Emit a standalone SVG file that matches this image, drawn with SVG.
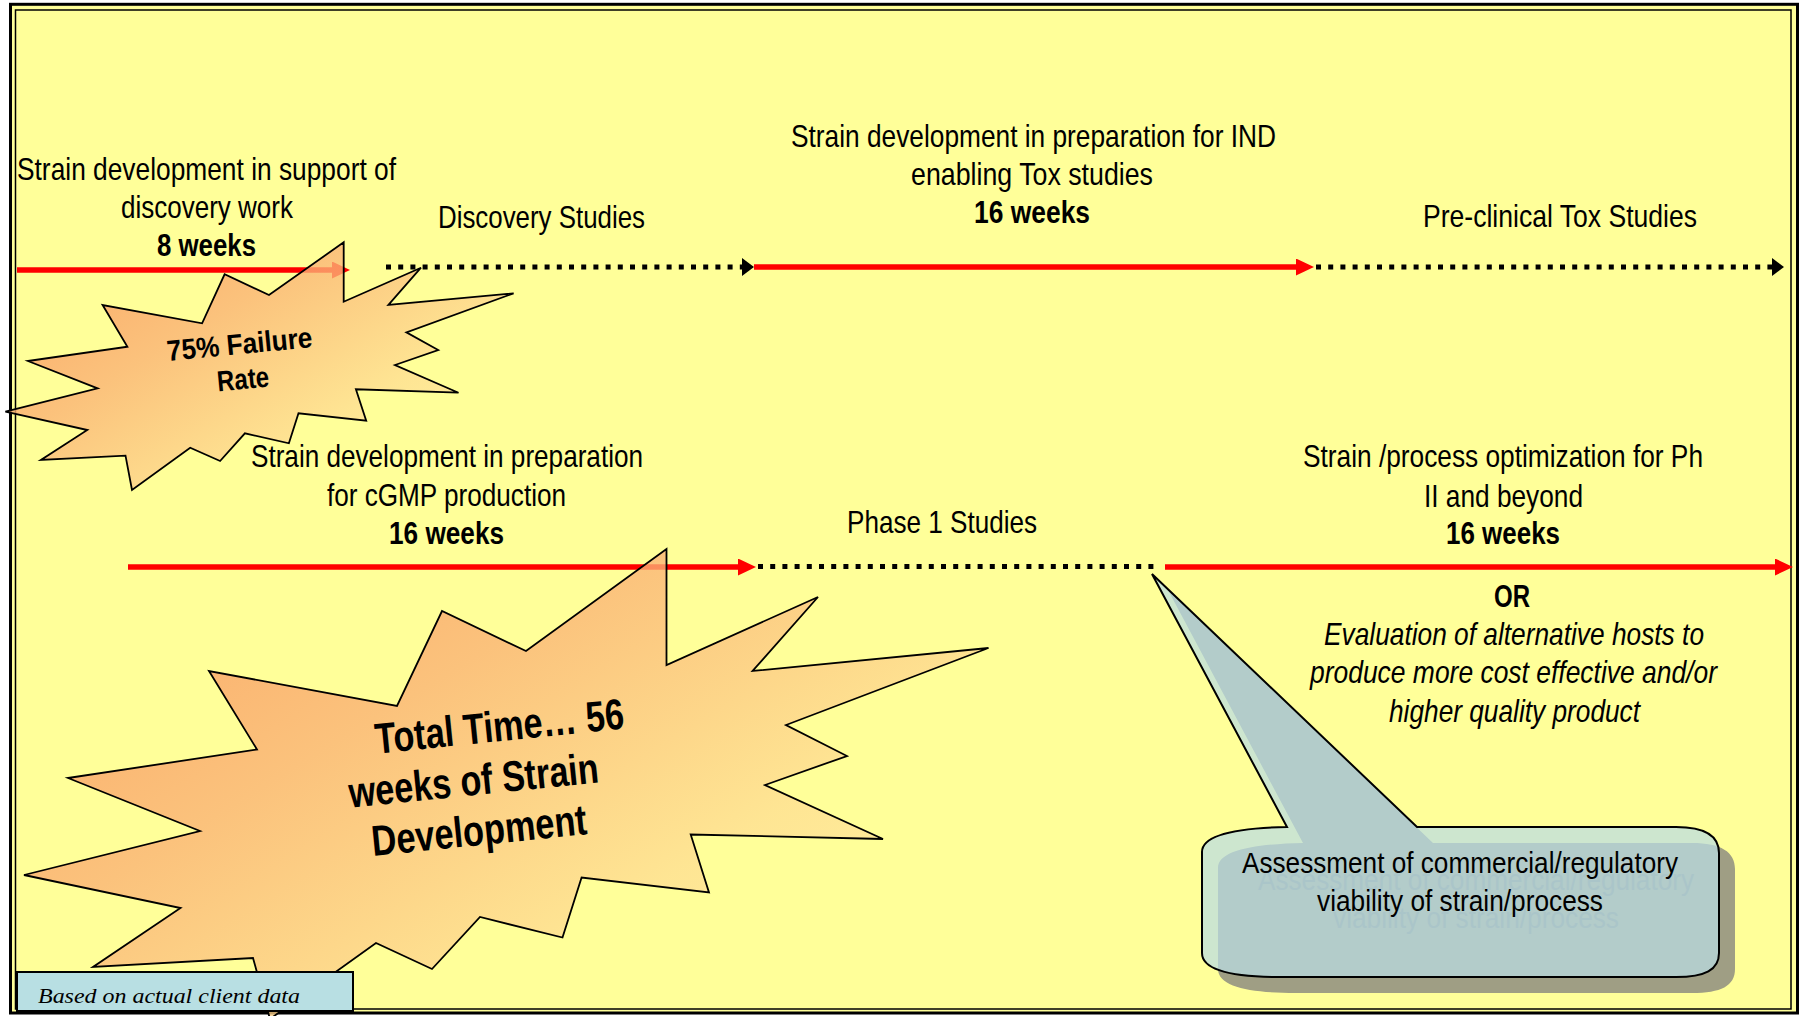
<svg xmlns="http://www.w3.org/2000/svg" width="1801" height="1016" viewBox="0 0 1801 1016">
  <style>
    .t { font-family: "Liberation Sans Narrow", "Liberation Sans", Arial, sans-serif; font-size: 32px; fill: #000; text-anchor: middle; }
    .b { font-weight: bold; }
    .i { font-style: italic; }
    .red { stroke: #FF0000; stroke-width: 5.3; fill: none; }
    .dot { stroke: #000; stroke-width: 5.2; fill: none; stroke-dasharray: 5 7.2; }
    .burst { stroke: #000; stroke-width: 1.8; fill: url(#burstGrad); fill-opacity: 0.78; stroke-linejoin: miter; }
    .bt { font-family: "Liberation Sans Narrow", "Liberation Sans", Arial, sans-serif; font-weight: bold; fill: #000; text-anchor: middle; }
    .ct { font-family: "Liberation Sans Narrow", "Liberation Sans", Arial, sans-serif; font-size: 29px; text-anchor: middle; }
  </style>
  <defs>
    <marker id="redHead" viewBox="0 0 18 17" refX="6" refY="8.5" markerWidth="18" markerHeight="17" markerUnits="userSpaceOnUse" orient="auto">
      <path d="M0,0 L18,8.5 L0,17 Z" fill="#FF0000"/>
    </marker>
    <marker id="blackHead" viewBox="0 0 12 18" refX="0" refY="9" markerWidth="12" markerHeight="18" markerUnits="userSpaceOnUse" orient="auto">
      <path d="M0,0 L12,9 L0,18 Z" fill="#000"/>
    </marker>
    <linearGradient id="burstGrad" x1="0" y1="0.1" x2="1" y2="0.9">
      <stop offset="0" stop-color="#F98F5A"/>
      <stop offset="0.35" stop-color="#FAB174"/>
      <stop offset="0.7" stop-color="#FEDE92"/>
      <stop offset="1" stop-color="#FFF0A5"/>
    </linearGradient>
    <path id="calloutShape" d="M1202,852 C1202,834 1240,828 1287,827 L1152,574 L1417,827 L1676,827 C1705,827 1719,836 1719,853 L1719,953 C1719,970 1705,977 1676,977 L1280,977 C1235,977 1202,971 1202,953 Z"/>
  </defs>

  <rect x="0" y="0" width="1801" height="1016" fill="#FFFFFF"/>
  <g id="frame">
    <rect x="10.5" y="4.3" width="1787" height="1008.7" fill="#FFFF99" stroke="#000" stroke-width="3"/>
    <rect x="15.5" y="10" width="1775.5" height="999" fill="none" stroke="#000" stroke-width="1.5"/>
  </g>

  <g id="connectors">
    <line class="red" x1="17" y1="270" x2="338" y2="270" marker-end="url(#redHead)"/>
    <line class="dot" x1="386" y1="267" x2="742" y2="267" marker-end="url(#blackHead)"/>
    <line class="red" x1="754" y1="267" x2="1302" y2="267" marker-end="url(#redHead)"/>
    <line class="dot" x1="1316" y1="267" x2="1772" y2="267" marker-end="url(#blackHead)"/>
    <line class="red" x1="128" y1="567" x2="744" y2="567" marker-end="url(#redHead)"/>
    <line class="dot" x1="758" y1="566.5" x2="1160" y2="566.5"/>
    <line class="red" x1="1165" y1="567" x2="1781" y2="567" marker-end="url(#redHead)"/>
  </g>

  <g id="burst-failure">
    <polygon class="burst" points="343.7,242.3 343.7,301.7 421,267.7 388.4,305 513.6,293.3 406.4,332.3 438.2,350 395,365 458.5,392.7 355.9,389.3 366.2,420.7 298.5,413.3 288.9,443.3 244.9,433.3 220.1,461 190.2,447.7 132,490 125.5,455.7 40.9,460 87.3,430 5.4,411.7 97.6,388.3 27.9,361 127.4,346.7 102.6,305 202.1,323.3 224.6,274.3 269,295"/>
    <text class="bt" font-size="29" transform="translate(240.5,354) rotate(-5.5)" textLength="146" lengthAdjust="spacingAndGlyphs">75% Failure</text>
    <text class="bt" font-size="29" transform="translate(244,389) rotate(-5.5)" textLength="52" lengthAdjust="spacingAndGlyphs">Rate</text>
  </g>

  <g id="burst-total">
    <polygon class="burst" points="666.5,549 666.5,665 818,597 752.6,671 988.5,648 786,725 847,756 765,785 883,839 690.7,834.5 709,892.5 581.6,877.6 562.5,937.5 480,917 432,969 376,943 270,1019 253,958 93,967 180.5,908 24,875 200,831 68,778 257,749.5 209,671 397,706 442,611 526,651"/>
    <text class="bt" font-size="43" transform="translate(500.8,741) rotate(-5.8)" textLength="250" lengthAdjust="spacingAndGlyphs">Total Time… 56</text>
    <text class="bt" font-size="43" transform="translate(475,795) rotate(-5.8)" textLength="251" lengthAdjust="spacingAndGlyphs">weeks of Strain</text>
    <text class="bt" font-size="43" transform="translate(480.5,845) rotate(-5.8)" textLength="216" lengthAdjust="spacingAndGlyphs">Development</text>
  </g>

  <g id="node-discovery-support">
    <text class="t" x="206.5" y="180" textLength="379" lengthAdjust="spacingAndGlyphs">Strain development in support of</text>
    <text class="t" x="207" y="218" textLength="172" lengthAdjust="spacingAndGlyphs">discovery work</text>
    <text class="t b" x="206.5" y="256" textLength="99" lengthAdjust="spacingAndGlyphs">8 weeks</text>
  </g>
  <g id="node-discovery-studies">
    <text class="t" x="541.5" y="228" textLength="207" lengthAdjust="spacingAndGlyphs">Discovery Studies</text>
  </g>
  <g id="node-ind">
    <text class="t" x="1033.5" y="147" textLength="485" lengthAdjust="spacingAndGlyphs">Strain development in preparation for IND</text>
    <text class="t" x="1032" y="185" textLength="242" lengthAdjust="spacingAndGlyphs">enabling Tox studies</text>
    <text class="t b" x="1032" y="223" textLength="116" lengthAdjust="spacingAndGlyphs">16 weeks</text>
  </g>
  <g id="node-preclinical">
    <text class="t" x="1560" y="227" textLength="274" lengthAdjust="spacingAndGlyphs">Pre-clinical Tox Studies</text>
  </g>
  <g id="node-cgmp">
    <text class="t" x="447" y="467" textLength="392" lengthAdjust="spacingAndGlyphs">Strain development in preparation</text>
    <text class="t" x="446.5" y="506" textLength="239" lengthAdjust="spacingAndGlyphs">for cGMP production</text>
    <text class="t b" x="446.5" y="544" textLength="115" lengthAdjust="spacingAndGlyphs">16 weeks</text>
  </g>
  <g id="node-phase1">
    <text class="t" x="942" y="533" textLength="190" lengthAdjust="spacingAndGlyphs">Phase 1 Studies</text>
  </g>
  <g id="node-phase2">
    <text class="t" x="1503" y="467" textLength="400" lengthAdjust="spacingAndGlyphs">Strain /process optimization for Ph</text>
    <text class="t" x="1503.5" y="507" textLength="159" lengthAdjust="spacingAndGlyphs">II and beyond</text>
    <text class="t b" x="1503" y="544" textLength="114" lengthAdjust="spacingAndGlyphs">16 weeks</text>
    <text class="t b" x="1512" y="607" textLength="36" lengthAdjust="spacingAndGlyphs">OR</text>
    <text class="t i" x="1514" y="645" textLength="380" lengthAdjust="spacingAndGlyphs">Evaluation of alternative hosts to</text>
    <text class="t i" x="1513.5" y="683" textLength="407" lengthAdjust="spacingAndGlyphs">produce more cost effective and/or</text>
    <text class="t i" x="1514.5" y="722" textLength="251" lengthAdjust="spacingAndGlyphs">higher quality product</text>
  </g>

  <g id="callout-assessment">
    <use href="#calloutShape" transform="translate(16,16)" fill="#9F9E84"/>
    <text class="ct" x="1476" y="890" textLength="436" lengthAdjust="spacingAndGlyphs" fill="#7E8480">Assessment of commercial/regulatory</text>
    <text class="ct" x="1476" y="927.5" textLength="286" lengthAdjust="spacingAndGlyphs" fill="#7E8480">viability of strain/process</text>
    <use href="#calloutShape" fill="#BADDE4" fill-opacity="0.73" stroke="#000" stroke-width="2" stroke-linejoin="miter"/>
    <text class="ct" x="1460" y="873" textLength="436" lengthAdjust="spacingAndGlyphs" fill="#000">Assessment of commercial/regulatory</text>
    <text class="ct" x="1460" y="910.5" textLength="286" lengthAdjust="spacingAndGlyphs" fill="#000">viability of strain/process</text>
  </g>

  <g id="note-client-data">
    <rect x="17" y="972" width="336" height="39" fill="#B8DFE3" stroke="#000" stroke-width="2"/>
    <text x="38" y="1003" font-family="Liberation Serif, 'Times New Roman', serif" font-style="italic" font-size="22" textLength="262" lengthAdjust="spacingAndGlyphs">Based on actual client data</text>
  </g>
</svg>
